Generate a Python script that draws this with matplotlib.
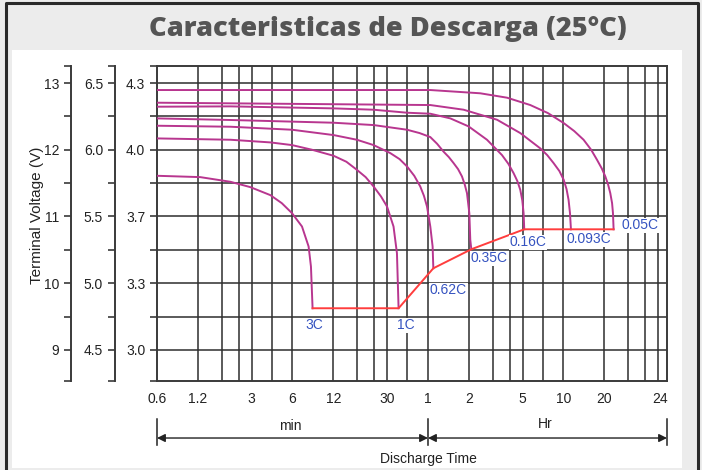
import matplotlib.pyplot as plt
from matplotlib.lines import Line2D
from matplotlib.patches import Rectangle
from matplotlib.ticker import NullLocator

plt.rcParams['font.family'] = ['Liberation Sans', 'DejaVu Sans']

# discharge curves, time in minutes, voltage on the 12 V scale
rates = ['3C', '1C', '0.62C', '0.35C', '0.16C', '0.093C', '0.05C']
t_3c = [0.6, 1.25, 2.09, 2.93, 4.12, 5.0, 5.95, 7.05, 7.89, 8.21, 8.44]
v_3c = [11.61, 11.59, 11.52, 11.44, 11.32, 11.2, 11.05, 10.85, 10.55, 10.25, 9.625]
t_1c = [0.6, 2.09, 4.12, 5.95, 8.36, 12.06, 15.0, 17.9, 20.8, 23.8, 27.0, 29.9, 33.4, 35.4, 36.4]
v_1c = [12.17, 12.15, 12.11, 12.07, 12.0, 11.91, 11.82, 11.7, 11.59, 11.45, 11.3, 11.15, 10.85, 10.45, 9.625]
t_062 = [0.6, 2.09, 5.95, 12.06, 17.9, 23.8, 31.6, 37.0, 42.0, 47.5, 52.6, 56.0, 59.0, 62.4, 64.9, 65.7]
v_062 = [12.36, 12.345, 12.3, 12.22, 12.15, 12.07, 11.95, 11.86, 11.75, 11.61, 11.45, 11.31, 11.15, 10.85, 10.55, 10.224]
t_035 = [0.6, 2.09, 12.06, 23.8, 42.0, 52.0, 62.4, 70.0, 78.3, 85.5, 92.7, 100.0, 106.9, 112.0, 116.4, 121.1, 123.1, 125.3]
v_035 = [12.47, 12.446, 12.405, 12.37, 12.3, 12.25, 12.19, 12.09, 11.97, 11.89, 11.8, 11.71, 11.6, 11.48, 11.35, 11.05, 10.65, 10.509]
t_016 = [0.6, 2.09, 12.06, 23.8, 42.0, 62.4, 87.7, 119.6, 163.5, 211.0, 235.0, 256.9, 274.0, 287.9, 298.0, 304.6, 308.0]
v_016 = [12.645, 12.65, 12.62, 12.6, 12.555, 12.54, 12.47, 12.35, 12.15, 11.92, 11.79, 11.65, 11.53, 11.4, 11.24, 11.05, 10.808]
t_0093 = [0.6, 62.4, 109.9, 193.9, 287.9, 404.7, 455.0, 507.1, 560.0, 602.0, 632.0, 654.0, 670.0, 681.0]
v_0093 = [12.705, 12.67, 12.6, 12.45, 12.25, 12.02, 11.92, 11.8, 11.68, 11.55, 11.41, 11.25, 11.05, 10.808]
t_005 = [0.6, 62.4, 145.9, 230.0, 341.3, 460.0, 602.0, 720.0, 844.0, 960.0, 1060.0, 1150.0, 1221.0, 1280.0, 1329.0, 1370.0, 1391.0, 1406.0]
v_005 = [12.895, 12.895, 12.846, 12.78, 12.67, 12.55, 12.4, 12.28, 12.15, 12.0, 11.85, 11.72, 11.6, 11.48, 11.35, 11.2, 11.05, 10.808]

curves_t = [t_3c, t_1c, t_062, t_035, t_016, t_0093, t_005]
curves_v = [v_3c, v_1c, v_062, v_035, v_016, v_0093, v_005]

# label offsets from the curve end (pixels)
label_dx = [2, 7, 15, 18, 4, 18, 26]
label_dy = [-17, -17, -22, -9, -13, -10, 4]

# x axis
xtick_vals = [0.6, 1.2, 3, 6, 12, 30, 60, 120, 300, 600, 1200, 3100]
xtick_labels = ['0.6', '1.2', '3', '6', '12', '30', '1', '2', '5', '10', '20', '24']
xgrid = [1.2, 1.8, 2.4, 3, 4.2, 6, 12, 18, 24, 30, 42, 60,
         120, 180, 240, 300, 420, 600, 1200, 1800, 2400, 3000]

# y axes
v12_ticks = [9, 10, 11, 12, 13]
v6_ticks = [4.5, 5.0, 5.5, 6.0, 6.5]
v6_labels = ['4.5', '5.0', '5.5', '6.0', '6.5']
v4_labels = ['3.0', '3.3', '3.7', '4.0', '4.3']

ylo, yhi = 8.535, 13.255
xlo, xhi = 0.6, 3484

fig = plt.figure(figsize=(7.02, 4.70), dpi=100, facecolor='#ececec')
fig.patches.append(Rectangle((12/702, 2/470), 670/702, 418/470, transform=fig.transFigure,
                             facecolor='white', edgecolor='none', zorder=-5))
fig.add_artist(Line2D([5.5/702, 5.5/702, 698/702, 698/702], [0, 1-3/470, 1-3/470, 0],
                      color='#2a2a2a', lw=2.2))

fig.text(388/702, 1-29/470, 'Caracteristicas de Descarga (25°C)', ha='center', va='center',
         fontsize=19.6, fontweight='heavy', family='Open Sans', color='#555555')

ax = fig.add_axes([157/702, 1-381/470, 510/702, 315/470])
ax.set_facecolor('white')
ax.set_xscale('log')
ax.set_xlim(xlo, xhi)
ax.set_ylim(ylo, yhi)

for x in xgrid:
    ax.axvline(x, color='#2e2e2e', lw=1.3, alpha=0.85, zorder=1)
for i in range(9):
    ax.axhline(9 + 0.5*i, color='#2e2e2e', lw=1.3, alpha=0.85, zorder=1)

for tt, vv in zip(curves_t, curves_v):
    ax.plot(tt, vv, color='#b8368f', lw=1.4, zorder=3)

end_t = [tt[-1] for tt in curves_t]
end_v = [vv[-1] for vv in curves_v]
ax.plot(end_t, end_v, color='#ff3d3d', lw=1.4, zorder=4)

for name, et, ev, dx, dy in zip(rates, end_t, end_v, label_dx, label_dy):
    ax.annotate(name, (et, ev), xytext=(dx*0.72, dy*0.72), textcoords='offset points',
                ha='center', va='center', fontsize=10, color='#3553c0', zorder=5,
                bbox=dict(facecolor='white', edgecolor='none', pad=0.5))

for s in ax.spines.values():
    s.set_color('#3a3a3a')
    s.set_linewidth(1.4)

ax.set_xticks(xtick_vals)
ax.set_xticklabels(xtick_labels)
ax.xaxis.set_minor_locator(NullLocator())
ax.tick_params(axis='x', length=0, pad=8, labelsize=10, labelcolor='#222222')

minor_y = [ylo, 9.5, 10.5, 11.5, 12.5, yhi]
ax.set_yticks(v12_ticks)
ax.set_yticklabels(v4_labels)
ax.set_yticks(minor_y, minor=True)
ax.tick_params(axis='y', which='both', direction='out', length=5, width=1.2,
               color='#3a3a3a', labelsize=10, labelcolor='#222222')

sec12 = ax.secondary_yaxis(-0.1686)
sec12.set_yticks(v12_ticks)
sec12.set_yticks(minor_y, minor=True)
sec6 = ax.secondary_yaxis(-0.0824, functions=(lambda v: v/2, lambda v: v*2))
sec6.set_yticks(v6_ticks)
sec6.set_yticklabels(v6_labels)
sec6.set_yticks([v/2 for v in minor_y], minor=True)
for sa in (sec12, sec6):
    sa.spines['left'].set_color('#3a3a3a')
    sa.spines['left'].set_linewidth(1.4)
    sa.tick_params(which='both', direction='out', length=5, width=1.2, color='#3a3a3a',
                   labelsize=10, labelcolor='#222222')

ax.text(-0.235, 0.527, 'Terminal Voltage (V)', transform=ax.transAxes, rotation=90,
        ha='center', va='center', fontsize=11, color='#222222')

# time dimension arrows
tr = ('data', 'axes fraction')
for x in [xlo, 60, xhi]:
    ax.annotate('', xy=(x, -0.111), xytext=(x, -0.213), xycoords=tr, textcoords=tr,
                arrowprops=dict(arrowstyle='-', color='#222222', lw=1.1), annotation_clip=False)
for a, b in [(xlo, 60), (60, xhi)]:
    ax.annotate('', xy=(a, -0.181), xytext=(b, -0.181), xycoords=tr, textcoords=tr,
                arrowprops=dict(arrowstyle='<|-|>', color='#222222', lw=1.0,
                                mutation_scale=12, shrinkA=0, shrinkB=0),
                annotation_clip=False)
ax.text(5.78, -0.143, 'min', transform=ax.get_xaxis_transform(), ha='center', va='center',
        fontsize=10, color='#222222')
ax.text(440, -0.137, 'Hr', transform=ax.get_xaxis_transform(), ha='center', va='center',
        fontsize=10, color='#222222')
ax.text(60, -0.248, 'Discharge Time', transform=ax.get_xaxis_transform(), ha='center',
        va='center', fontsize=10, color='#222222')

fig.savefig('out.png', dpi=100, facecolor=fig.get_facecolor())
